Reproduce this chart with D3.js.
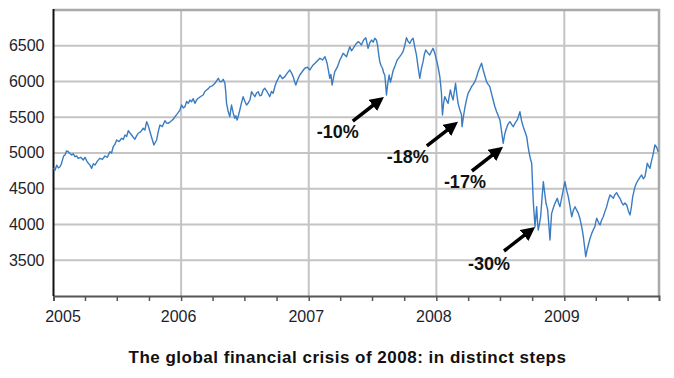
<!DOCTYPE html>
<html>
<head>
<meta charset="utf-8">
<script src="https://cdn.jsdelivr.net/npm/d3@7"></script>
<style>
  body { margin: 0; background: #fff; }
  svg { display: block; font-family: Arial, "Liberation Sans", sans-serif; }
  .grid line { stroke: #c4c4c4; stroke-width: 2; }
  .y-axis text, .x-axis text { font-size: 16px; fill: #1e1e2e; }
  .note { font-size: 18px; font-weight: bold; fill: #111; }
  .title { font-size: 17px; font-weight: bold; fill: #111; letter-spacing: 0.5px; }
</style>
</head>
<body>
<div class="chart"></div>
<script>
const W = 674, H = 378;
const margin = {top: 10, right: 15, bottom: 82, left: 53.5};
const width = W - margin.left - margin.right;
const height = H - margin.top - margin.bottom;

// FTSE 100 level: [fraction of the year, level]
const ftse2005 = [
  [0.000, 4786], [0.012, 4760], [0.025, 4830], [0.038, 4790], [0.051, 4808], [0.062, 4850],
  [0.070, 4900], [0.080, 4960], [0.090, 4972], [0.103, 5030], [0.116, 5018], [0.130, 4990],
  [0.143, 4972], [0.155, 4990], [0.168, 4948], [0.181, 4960], [0.194, 4926], [0.214, 4940],
  [0.233, 4902], [0.247, 4940], [0.260, 4890], [0.273, 4856], [0.286, 4830], [0.299, 4786],
  [0.312, 4850], [0.325, 4832], [0.345, 4890], [0.364, 4926], [0.383, 4910], [0.403, 4958],
  [0.422, 4940], [0.442, 5018], [0.455, 5000], [0.468, 5088], [0.481, 5120], [0.495, 5182],
  [0.514, 5160], [0.534, 5206], [0.547, 5190], [0.560, 5252], [0.573, 5230], [0.586, 5312],
  [0.599, 5280], [0.612, 5252], [0.625, 5220], [0.638, 5192], [0.651, 5240], [0.664, 5276],
  [0.684, 5300], [0.703, 5346], [0.716, 5320], [0.730, 5438], [0.743, 5380], [0.756, 5298],
  [0.772, 5200], [0.787, 5112], [0.798, 5150], [0.808, 5182], [0.821, 5300], [0.834, 5392],
  [0.853, 5370], [0.873, 5452], [0.886, 5420], [0.899, 5414], [0.918, 5440], [0.938, 5472],
  [0.957, 5520], [0.977, 5564], [0.990, 5600]
];
const ftse2006 = [
  [0.004, 5671], [0.017, 5630], [0.030, 5648], [0.043, 5720], [0.056, 5695], [0.069, 5740],
  [0.082, 5718], [0.095, 5760], [0.108, 5695], [0.121, 5740], [0.134, 5765], [0.153, 5790],
  [0.173, 5811], [0.186, 5860], [0.200, 5881], [0.213, 5900], [0.226, 5927], [0.245, 5940],
  [0.265, 5975], [0.278, 6010], [0.291, 6045], [0.304, 6000], [0.317, 5998], [0.330, 6030],
  [0.343, 5975], [0.350, 5850], [0.356, 5695], [0.369, 5580], [0.382, 5508], [0.389, 5600],
  [0.395, 5671], [0.408, 5560], [0.421, 5485], [0.430, 5520], [0.439, 5462], [0.450, 5530],
  [0.460, 5601], [0.473, 5700], [0.486, 5788], [0.500, 5720], [0.513, 5671], [0.526, 5700],
  [0.539, 5741], [0.546, 5800], [0.552, 5857], [0.565, 5820], [0.578, 5788], [0.591, 5840],
  [0.604, 5857], [0.617, 5800], [0.630, 5811], [0.643, 5880], [0.656, 5905], [0.676, 5850],
  [0.695, 5788], [0.708, 5860], [0.721, 5835], [0.735, 5930], [0.748, 5998], [0.761, 6040],
  [0.774, 6091], [0.794, 6040], [0.813, 6068], [0.833, 6120], [0.852, 6161], [0.865, 6120],
  [0.878, 6068], [0.889, 6000], [0.899, 5951], [0.914, 6030], [0.930, 6091], [0.950, 6140],
  [0.969, 6185], [0.990, 6200]
];
const ftse2007 = [
  [0.009, 6161], [0.029, 6220], [0.049, 6255], [0.068, 6290], [0.088, 6325], [0.108, 6300],
  [0.127, 6347], [0.136, 6300], [0.144, 6255], [0.155, 6150], [0.165, 6045], [0.174, 6100],
  [0.183, 5951], [0.194, 6050], [0.204, 6138], [0.224, 6200], [0.244, 6301], [0.256, 6340],
  [0.269, 6394], [0.283, 6370], [0.296, 6347], [0.309, 6420], [0.322, 6487], [0.335, 6430],
  [0.348, 6464], [0.368, 6520], [0.387, 6557], [0.400, 6540], [0.413, 6511], [0.430, 6580],
  [0.447, 6613], [0.456, 6540], [0.465, 6464], [0.478, 6540], [0.492, 6580], [0.505, 6550],
  [0.518, 6604], [0.530, 6580], [0.539, 6511], [0.548, 6380], [0.557, 6277], [0.567, 6220],
  [0.578, 6185], [0.587, 6120], [0.596, 6091], [0.603, 5950], [0.609, 5811], [0.620, 5980],
  [0.630, 6091], [0.640, 5990], [0.648, 6045], [0.661, 6150], [0.674, 6208], [0.693, 6300],
  [0.713, 6347], [0.726, 6380], [0.739, 6417], [0.752, 6500], [0.766, 6613], [0.779, 6560],
  [0.792, 6534], [0.805, 6580], [0.818, 6604], [0.831, 6480], [0.844, 6371], [0.857, 6200],
  [0.870, 6045], [0.883, 6180], [0.896, 6277], [0.906, 6380], [0.917, 6441], [0.933, 6400],
  [0.948, 6371], [0.961, 6420], [0.974, 6464], [0.987, 6400]
];
const ftse2008 = [
  [0.001, 6301], [0.014, 6200], [0.027, 6068], [0.034, 5950], [0.040, 5835], [0.044, 5650],
  [0.048, 5531], [0.057, 5700], [0.066, 5788], [0.079, 5740], [0.092, 5695], [0.101, 5800],
  [0.110, 5881], [0.120, 5800], [0.131, 5741], [0.140, 5850], [0.150, 5975], [0.160, 5820],
  [0.170, 5695], [0.184, 5600], [0.197, 5531], [0.199, 5420], [0.201, 5368], [0.211, 5500],
  [0.222, 5625], [0.235, 5740], [0.248, 5835], [0.262, 5880], [0.275, 5927], [0.288, 5960],
  [0.301, 5998], [0.314, 6060], [0.327, 6138], [0.340, 6200], [0.353, 6255], [0.360, 6210],
  [0.366, 6161], [0.379, 6080], [0.392, 5998], [0.405, 5960], [0.418, 5927], [0.431, 5830],
  [0.444, 5741], [0.457, 5650], [0.471, 5578], [0.484, 5520], [0.497, 5462], [0.510, 5300],
  [0.522, 5136], [0.533, 5250], [0.543, 5322], [0.559, 5400], [0.575, 5438], [0.588, 5400],
  [0.601, 5368], [0.616, 5420], [0.632, 5462], [0.643, 5520], [0.653, 5578], [0.666, 5450],
  [0.679, 5368], [0.692, 5300], [0.706, 5228], [0.716, 5100], [0.726, 4996], [0.735, 4920],
  [0.745, 4856], [0.751, 4600], [0.757, 4343], [0.764, 4150], [0.771, 3970], [0.777, 4100],
  [0.784, 4249], [0.790, 4050], [0.796, 3923], [0.805, 4000], [0.815, 4109], [0.825, 4350],
  [0.836, 4599], [0.846, 4450], [0.857, 4297], [0.864, 4250], [0.870, 4203], [0.879, 4000],
  [0.888, 3783], [0.895, 4000], [0.901, 4156], [0.914, 4230], [0.927, 4297], [0.936, 4330],
  [0.945, 4366], [0.955, 4300], [0.966, 4249], [0.985, 4420]
];
const ftse2009 = [
  [0.005, 4599], [0.018, 4480], [0.031, 4389], [0.045, 4250], [0.058, 4109], [0.071, 4200],
  [0.084, 4249], [0.097, 4200], [0.110, 4156], [0.123, 4080], [0.136, 3970], [0.143, 3900],
  [0.149, 3830], [0.158, 3700], [0.168, 3550], [0.178, 3640], [0.188, 3713], [0.201, 3800],
  [0.215, 3876], [0.228, 3930], [0.240, 3970], [0.247, 4040], [0.254, 4087], [0.267, 4030],
  [0.280, 3993], [0.292, 4060], [0.305, 4109], [0.318, 4180], [0.332, 4249], [0.345, 4340],
  [0.358, 4413], [0.371, 4390], [0.384, 4366], [0.397, 4420], [0.410, 4445], [0.423, 4400],
  [0.436, 4366], [0.449, 4310], [0.462, 4273], [0.475, 4300], [0.489, 4273], [0.502, 4190],
  [0.515, 4133], [0.526, 4250], [0.536, 4389], [0.545, 4460], [0.554, 4529], [0.566, 4580],
  [0.579, 4622], [0.592, 4660], [0.606, 4692], [0.619, 4640], [0.632, 4669], [0.641, 4760],
  [0.650, 4856], [0.660, 4820], [0.671, 4786], [0.682, 4880], [0.692, 4949], [0.701, 5030],
  [0.710, 5112], [0.723, 5080], [0.736, 5018]
];
const years = [2005, 2006, 2007, 2008, 2009];
const series = [ftse2005, ftse2006, ftse2007, ftse2008, ftse2009];

const yTicks = [3500, 4000, 4500, 5000, 5500, 6000, 6500];

// the four falls, tip of each arrow on the curve
const noteLabels = ['-10%', '-18%', '-17%', '-30%'];
const noteWhen = [2007.588, 2008.168, 2008.520, 2008.771];
const noteLevel = [5783, 5434, 5084, 3965];

function toDate(t) {
  const y = Math.floor(t);
  const s = new Date(y, 0, 1), e = new Date(y + 1, 0, 1);
  return new Date(+s + (t - y) * (e - s));
}

const data = [];
series.forEach((rows, i) => {
  rows.forEach(r => data.push({date: toDate(years[i] + r[0]), value: r[1]}));
});

const x = d3.scaleTime()
  .domain([new Date(2005, 0, 1), toDate(2009.742)])
  .range([0, width]);

const y = d3.scaleLinear()
  .domain([3000, 7000])
  .range([height, 0]);

const svg = d3.select('.chart').append('svg')
  .attr('width', W)
  .attr('height', H)
  .append('g')
  .attr('transform', `translate(${margin.left},${margin.top})`);

// horizontal grid
svg.append('g').attr('class', 'grid')
  .selectAll('line')
  .data(yTicks)
  .join('line')
  .attr('x1', 0).attr('x2', width)
  .attr('y1', d => y(d)).attr('y2', d => y(d));

// vertical grid at each year
svg.append('g').attr('class', 'grid')
  .selectAll('line')
  .data(years.slice(1))
  .join('line')
  .attr('x1', d => x(new Date(d, 0, 1))).attr('x2', d => x(new Date(d, 0, 1)))
  .attr('y1', 0).attr('y2', height);

// frame: top and right
svg.append('path')
  .attr('d', `M0,0H${width}V${height}`)
  .attr('fill', 'none')
  .attr('stroke', '#a9a9a9')
  .attr('stroke-width', 2.5);

const xAxis = d3.axisBottom(x)
  .ticks(d3.timeMonth.every(3))
  .tickSize(5)
  .tickPadding(10)
  .tickFormat(d => d.getMonth() === 0 ? d.getFullYear() : '');

const gx = svg.append('g')
  .attr('class', 'x-axis')
  .attr('transform', `translate(0,${height})`)
  .call(xAxis);
gx.select('.domain').attr('stroke', '#555').attr('stroke-width', 2);
gx.selectAll('.tick line').attr('stroke', '#555').attr('stroke-width', 1.5);
gx.selectAll('.tick text')
  .attr('font-family', null).attr('font-size', null)
  .attr('dx', d => d.getFullYear() === 2005 && d.getMonth() === 0 ? 9 : -3);

const yAxis = d3.axisLeft(y)
  .tickValues(yTicks)
  .tickFormat(d3.format('d'))
  .tickSize(0)
  .tickPadding(9);

const gy = svg.append('g')
  .attr('class', 'y-axis')
  .call(yAxis);
gy.select('.domain').remove();
gy.selectAll('.tick text').attr('font-family', null).attr('font-size', null).attr('dy', '0.3em');

svg.append('line')
  .attr('x1', 0).attr('x2', 0)
  .attr('y1', -1).attr('y2', height)
  .attr('stroke', '#111')
  .attr('stroke-width', 2);

const line = d3.line()
  .x(d => x(d.date))
  .y(d => y(d.value));

svg.append('path')
  .datum(data)
  .attr('fill', 'none')
  .attr('stroke', '#3a7cc2')
  .attr('stroke-width', 1.4)
  .attr('stroke-linejoin', 'round')
  .attr('d', line);

// arrows with labels
const defs = svg.append('defs');
defs.append('marker')
  .attr('id', 'head')
  .attr('viewBox', '0 0 10 10')
  .attr('refX', 2).attr('refY', 5)
  .attr('markerWidth', 14).attr('markerHeight', 14)
  .attr('markerUnits', 'userSpaceOnUse')
  .attr('orient', 'auto')
  .append('path')
  .attr('d', 'M0,0L10,5L0,10z')
  .attr('fill', '#000');

const tailDx = -31, tailDy = 24;
const notes = noteLabels.map((lab, i) => ({
  label: lab,
  tx: x(toDate(noteWhen[i])),
  ty: y(noteLevel[i])
}));
const textOff = [[-67, 41], [-71, 41], [-59, 41], [-67, 43]];

notes.forEach((n, i) => {
  const x0 = n.tx + tailDx, y0 = n.ty + tailDy;
  const len = Math.hypot(tailDx, tailDy);
  const k = (len - 11) / len;
  svg.append('line')
    .attr('x1', x0).attr('y1', y0)
    .attr('x2', x0 - tailDx * k).attr('y2', y0 - tailDy * k)
    .attr('stroke', '#000')
    .attr('stroke-width', 3.5)
    .attr('marker-end', 'url(#head)');
  svg.append('text')
    .attr('class', 'note')
    .attr('x', n.tx + textOff[i][0])
    .attr('y', n.ty + textOff[i][1])
    .text(n.label);
});

d3.select('.chart svg').append('text')
  .attr('class', 'title')
  .attr('x', 347.5)
  .attr('y', 363)
  .attr('text-anchor', 'middle')
  .text('The global financial crisis of 2008: in distinct steps');
</script>
</body>
</html>
